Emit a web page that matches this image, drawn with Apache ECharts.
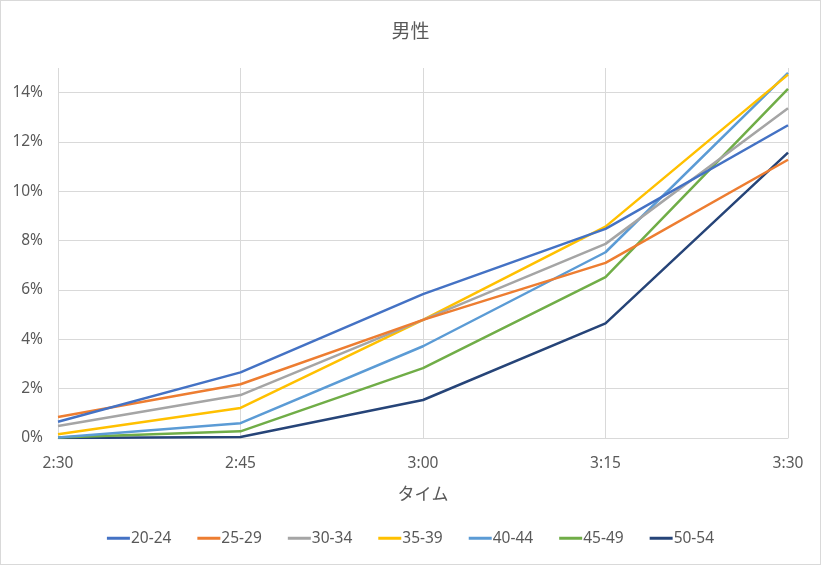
<!DOCTYPE html>
<html>
<head>
<meta charset="utf-8">
<script src="https://cdn.jsdelivr.net/npm/echarts@6/dist/echarts.min.js"></script>
<style>
  html, body { margin: 0; padding: 0; background: #fff; }
  #chart { width: 821px; height: 565px; box-sizing: border-box; border: 1px solid #d9d9d9; }
</style>
</head>
<body>
<div id="chart"></div>
<script>
const times = ['2:30', '2:45', '3:00', '3:15', '3:30'];
const groups = ['20-24', '25-29', '30-34', '35-39', '40-44', '45-49', '50-54'];
const colors = ['#4472C4', '#ED7D31', '#A5A5A5', '#FFC000', '#5B9BD5', '#70AD47', '#264478'];

// percent values per age group
const age20 = [0.66, 2.66, 5.83, 8.48, 12.68];
const age25 = [0.85, 2.18, 4.79, 7.10, 11.28];
const age30 = [0.49, 1.74, 4.79, 7.87, 13.37];
const age35 = [0.15, 1.22, 4.79, 8.57, 14.73];
const age40 = [0.02, 0.60, 3.72, 7.53, 14.80];
const age45 = [0.02, 0.27, 2.83, 6.52, 14.15];
const age50 = [0.00, 0.04, 1.54, 4.65, 11.57];
const values = [age20, age25, age30, age35, age40, age45, age50];

const chart = echarts.init(document.getElementById('chart'));
const font = '"Noto Sans", "Noto Sans CJK JP", sans-serif';

let option = {
  color: colors,
  textStyle: { fontFamily: font },
  title: {
    text: '男性',
    left: 'center',
    top: 15,
    textStyle: { fontSize: 19, fontWeight: 'normal', color: '#595959', fontFamily: '"Noto Sans CJK JP", sans-serif' }
  },
  legend: {
    bottom: 13,
    left: 'center',
    itemWidth: 23,
    itemHeight: 3,
    itemGap: 26,
    icon: 'rect',
    textStyle: { fontSize: 15.5, color: '#595959', padding: [0, 0, 0, -4] },
    data: groups
  },
  grid: { left: 57, right: 32, top: 67, bottom: 126 },
  xAxis: {
    type: 'category',
    data: times,
    boundaryGap: false,
    name: 'タイム',
    nameLocation: 'middle',
    nameGap: 47,
    nameTextStyle: { fontSize: 17, color: '#595959', fontFamily: '"Noto Sans CJK JP", sans-serif' },
    axisLine: { lineStyle: { color: '#d9d9d9' } },
    axisTick: { show: false },
    axisLabel: { fontSize: 15.5, color: '#595959', margin: 18 },
    splitLine: { show: true, lineStyle: { color: '#d9d9d9' } }
  },
  yAxis: {
    type: 'value',
    min: 0,
    max: 15,
    interval: 2,
    axisLine: { show: false },
    axisTick: { show: false },
    axisLabel: { fontSize: 15.5, color: '#595959', margin: 15, formatter: '{value}%', showMaxLabel: false },
    splitLine: {
      lineStyle: { color: ['#d9d9d9', '#d9d9d9', '#d9d9d9', '#d9d9d9', '#d9d9d9', '#d9d9d9', '#d9d9d9', '#d9d9d9', 'rgba(0,0,0,0)'] }
    }
  },
  series: groups.map((g, i) => ({
    name: g,
    type: 'line',
    data: values[i],
    showSymbol: false,
    symbol: 'none',
    lineStyle: { width: 2.5 },
    z: 10 - i
  }))
};

option && chart.setOption(option);
</script>
</body>
</html>
